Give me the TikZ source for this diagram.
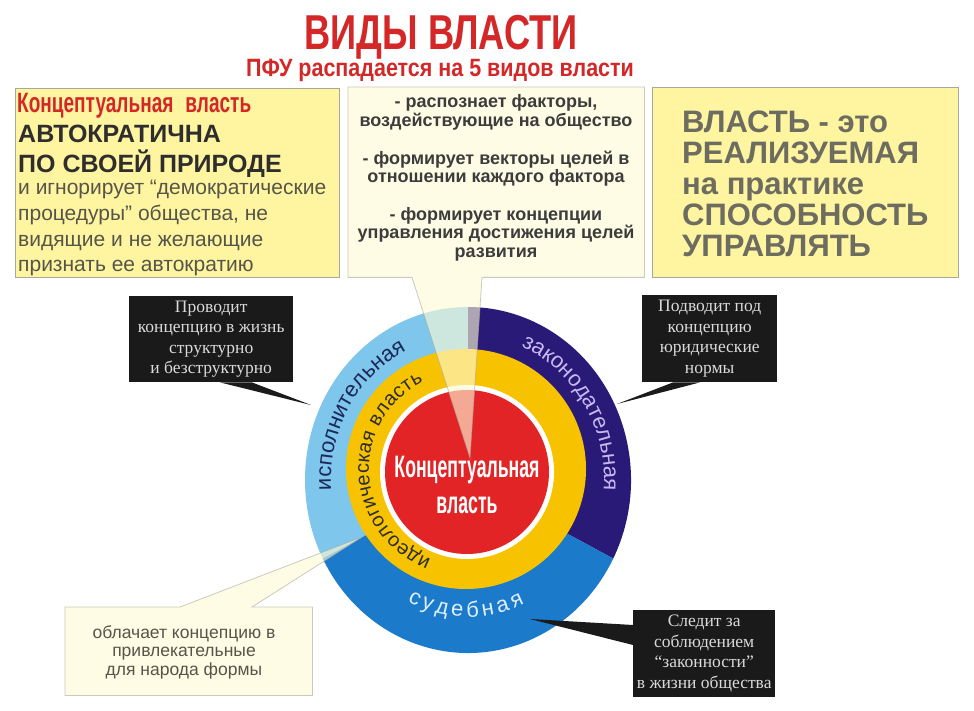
\documentclass[tikz,border=0pt]{standalone}
\usepackage{fontspec}
\setmainfont{Liberation Sans}
\newfontfamily\ttlA[FakeStretch=0.74]{Liberation Sans}
\newfontfamily\ttlB[FakeStretch=0.86]{Liberation Sans}
\newfontfamily\condA[FakeStretch=0.68]{Liberation Sans}
\newfontfamily\condB[FakeStretch=0.57]{Liberation Sans}
\newfontfamily\serifbx{Liberation Serif}
\usetikzlibrary{calc,decorations.text}
\pgfdeclarelayer{bg}
\pgfsetlayers{bg,main}
\definecolor{ttlred}{HTML}{D42828}
\definecolor{boxyel}{HTML}{FFF4A0}
\definecolor{boxline}{HTML}{A8A89A}
\definecolor{paleyel}{HTML}{FFFBD6}
\definecolor{ltblue}{HTML}{7EC6EC}
\definecolor{navyc}{HTML}{2A1A78}
\definecolor{midblue}{HTML}{1C7ACB}
\definecolor{gold}{HTML}{F7C300}
\definecolor{redc}{HTML}{E22426}
\definecolor{txtdark}{HTML}{2E2E2E}
\definecolor{txtgrey}{HTML}{55554A}
\definecolor{midtxt}{HTML}{3C3C3C}
\definecolor{rbtxt}{HTML}{6C6C60}
\definecolor{blkbox}{HTML}{1A1A1A}
\definecolor{blktxt}{HTML}{DADADA}
\definecolor{lavtxt}{HTML}{C8B8F0}
\definecolor{sudtxt}{HTML}{DDEEFF}
\definecolor{isptxt}{HTML}{1C2858}
\begin{document}
\begin{tikzpicture}[x=1pt,y=1pt,
  ybox/.style={draw=boxline, line width=0.8pt, fill=boxyel, inner sep=0, anchor=north west},
  emptybox/.style={draw=none, inner sep=0, anchor=north west},
  blk/.style={fill=blkbox, text=blktxt, inner sep=0, anchor=north west, align=center, font=\serifbx\fontsize{17.5}{20.5}\selectfont},
  callout/.style={fill=paleyel, fill opacity=0.62, draw=boxline, draw opacity=0.6, line width=0.8pt},
  capline/.style={anchor=base west, inner sep=0, text=txtdark, font=\bfseries\fontsize{25}{25}\selectfont},
  bodyline/.style={anchor=base west, inner sep=0, text=txtgrey, font=\fontsize{21}{21}\selectfont},
  pointer/.style={fill=blkbox},
]
\useasboundingbox (0,0) rectangle (974,-711);

% titles
\node[anchor=base, text=ttlred, font=\ttlA\bfseries\fontsize{49}{49}\selectfont, inner sep=0] (title) at (441,-50) {ВИДЫ ВЛАСТИ};
\node[anchor=base, text=ttlred, font=\ttlB\bfseries\fontsize{25}{25}\selectfont, inner sep=0] (subtitle) at (440,-77) {ПФУ распадается на 5 видов власти};

% top boxes
\node[ybox, minimum width=324, minimum height=189] (lbox) at (15,-88) {};
\node[emptybox, minimum width=296, minimum height=190] (mbox) at (348,-87) {};
\node[ybox, minimum width=306, minimum height=190] (rbox) at (652,-87) {};

% left box text
\node[anchor=base west, inner sep=0, text=ttlred, font=\condA\bfseries\fontsize{28}{28}\selectfont] (lhead) at (17,-113) {Концептуальная\hspace{12pt}власть};
\node[capline] (lcap1) at (18,-143) {АВТОКРАТИЧНА};
\node[capline] (lcap2) at (18,-173) {ПО СВОЕЙ ПРИРОДЕ};
\node[bodyline] (lb1) at (18,-195) {и игнорирует “демократические};
\node[bodyline] (lb2) at (18,-220.5) {процедуры” общества, не};
\node[bodyline] (lb3) at (18,-246.5) {видящие и не желающие};
\node[bodyline] (lb4) at (18,-272) {признать ее автократию};

% middle box text
\node[anchor=center, inner sep=0, align=center, text=midtxt, font=\bfseries\fontsize{18}{18.6}\selectfont] (mtext) at (496,-178) {- распознает факторы,\\воздействующие на общество\\[19pt]- формирует векторы целей в\\отношении каждого фактора\\[19pt]- формирует концепции\\управления достижения целей\\развития};

% right box text
\node[anchor=north west, inner sep=0, align=left, text=rbtxt, font=\bfseries\fontsize{31}{31}\selectfont] (rtext) at (682,-110.5) {ВЛАСТЬ - это\\РЕАЛИЗУЕМАЯ\\на практике\\СПОСОБНОСТЬ\\УПРАВЛЯТЬ};

% bottom-left box
\node[emptybox, minimum width=247, minimum height=88] (obox) at (65,-607) {};
\node[align=center, inner sep=0, text=txtgrey, font=\fontsize{17.5}{18.6}\selectfont] (otext) at (184,-652) {облачает концепцию в\\привлекательные\\для народа формы};

% black boxes
\node[blk, minimum width=164, minimum height=86] (b1) at (129,-296) {Проводит\\концепцию в жизнь\\структурно\\и безструктурно};
\node[blk, minimum width=135, minimum height=87] (b2) at (642,-295) {Подводит под\\концепцию\\юридические\\нормы};
\node[blk, minimum width=142, minimum height=87] (b3) at (633,-610) {Следит за\\соблюдением\\“законности”\\в жизни общества};

% centres and tips
\coordinate (O) at (468,-480);
\coordinate (Y) at (466,-469);
\coordinate (R) at (467,-472);
\coordinate (tipm) at (470,-458);
\coordinate (tipo) at (362,-537);
\coordinate (tip1) at (311,-405);
\coordinate (tip2) at (617,-404);
\coordinate (tip3) at (530,-619);

\begin{pgfonlayer}{bg}
\fill[white] (0,0) rectangle (974,-711);
\fill[ltblue] (O) -- ++(90:163 and 173) arc[start angle=90, end angle=207, x radius=163, y radius=173] -- cycle;
\fill[navyc] (O) -- ++(-27:163 and 173) arc[start angle=-27, end angle=90, x radius=163, y radius=173] -- cycle;
\fill[midblue] (O) -- ++(207:163 and 173) arc[start angle=207, end angle=333, x radius=163, y radius=173] -- cycle;
\fill[gold] (Y) circle[radius=120];
\fill[white] (R) circle[radius=87];
\fill[redc] (R) circle[radius=82];
\path[callout] (mbox.north west) -- (mbox.north east) -- (mbox.south east) -- ($(mbox.south west)+(134,0)$) -- (tipm) -- ($(mbox.south west)+(64,0)$) -- (mbox.south west) -- cycle;
\path[callout] (obox.north west) -- ($(obox.north west)+(115,0)$) -- (tipo) -- ($(obox.north west)+(187,0)$) -- (obox.north east) -- (obox.south east) -- (obox.south west) -- cycle;
\end{pgfonlayer}

% pointers of black boxes
\fill[pointer] ($(b1.south west)+(91,0)$) -- (tip1) -- ($(b1.south west)+(123,0)$) -- cycle;
\fill[pointer] ($(b2.south west)+(31,0)$) -- (tip2) -- ($(b2.south west)+(58,0)$) -- cycle;
\fill[pointer] ($(b3.north west)+(0,-15)$) -- (tip3) -- ($(b3.north west)+(0,-35)$) -- cycle;

% ring labels
\path[decorate, decoration={text along path, text align=fit to path, text={|\color{isptxt}\fontsize{22}{22}\selectfont|исполнительная}}] ($(O)+(184:137 and 145)$) arc[start angle=184, end angle=117, x radius=137, y radius=145];
\path[decorate, decoration={text along path, text align=fit to path, text={|\color{lavtxt}\fontsize{22}{22}\selectfont|законодательная}}] ($(O)+(67:136 and 145)$) arc[start angle=67, end angle=-2, x radius=136, y radius=145];
\path[decorate, decoration={text along path, text align=fit to path, text={|\color{sudtxt}\fontsize{22}{22}\selectfont|судебная}}] ($(O)+(242:129 and 137)$) arc[start angle=242, end angle=296, x radius=129, y radius=137];
\path[decorate, decoration={text along path, text align=fit to path, text={|\color{txtdark}\fontsize{20}{20}\selectfont|идеологическая власть}}] ($(Y)+(249:97)$) arc[start angle=249, end angle=116, radius=97];

% centre label
\node[text=white, align=center, inner sep=0, font=\condB\bfseries\fontsize{31}{36}\selectfont] (ctext) at (467,-485) {Концептуальная\\власть};
\end{tikzpicture}
\end{document}
